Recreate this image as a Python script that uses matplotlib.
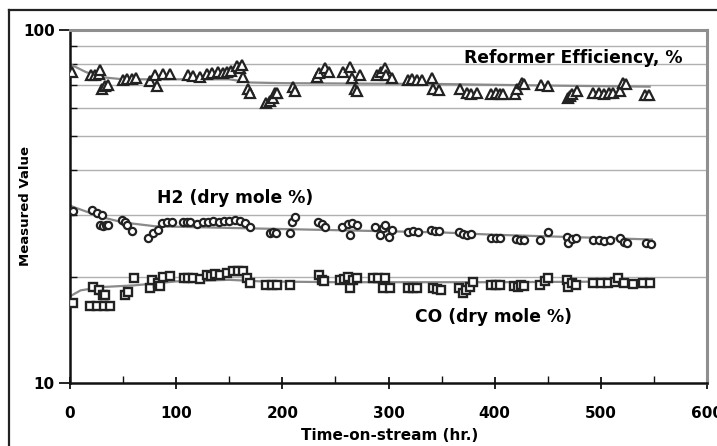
import numpy as np
import matplotlib.pyplot as plt
from matplotlib.lines import Line2D
from matplotlib.ticker import FixedLocator, NullFormatter

# reformer efficiency, %
eff_t = [2, 20, 24, 27, 28, 30, 33, 36, 50, 54, 58, 62, 75, 80, 82, 88, 94,
         111, 116, 122, 129, 134, 139, 144, 148, 152, 157, 160, 162, 163, 168, 170,
         185, 188, 191, 193, 195, 210, 212, 233, 235, 240, 244,
         257, 264, 266, 268, 270, 273, 289, 293, 297, 298, 303,
         318, 322, 327, 332, 341, 342, 348, 367, 374, 378, 383,
         397, 401, 405, 408, 419, 421, 426, 428, 444, 450,
         469, 471, 473, 478, 493, 498, 503, 508, 511, 518, 521, 524, 542, 545]
eff_v = [76, 74.5, 74.5, 75, 77, 68, 69.5, 70, 72, 72.5, 72.5, 73, 71.5, 74.5, 69.5, 75, 75,
         74.5, 74, 73.5, 75, 75.5, 76, 75.5, 76, 76.5, 79, 78, 79.5, 73.5, 68, 66.5,
         62, 63, 64, 66.5, 66.5, 69, 67, 73.5, 75.5, 78, 76,
         76, 78.5, 73, 68, 67, 74.5, 74.5, 76, 78, 74.5, 73,
         72, 72.5, 72, 72, 73, 68, 67.5, 68, 66.5, 66, 66.5,
         66, 66.5, 66, 66, 66, 68, 71, 70.5, 70, 69.5,
         64, 65, 66, 67, 66.5, 66.5, 66, 66.5, 66.5, 67, 71, 70.5, 65.5, 65.5]
eff_trend_t = [0, 15, 30, 50, 150, 170, 200, 350, 450, 546]
eff_trend_v = [80, 76, 73.5, 72.5, 72.5, 71, 70.7, 70.3, 69.6, 69.1]

# H2, dry mole %
h2_t = [3, 21, 25, 30, 28, 31, 34, 36, 49, 52, 54, 58, 73, 78, 83, 87, 91, 96,
        106, 110, 113, 120, 125, 130, 135, 140, 145, 150, 155, 160, 165, 170,
        188, 191, 194, 207, 209, 212, 234, 237, 240,
        256, 262, 264, 266, 270, 287, 292, 295, 297, 300, 303,
        318, 323, 328, 340, 344, 348, 366, 370, 374, 378,
        397, 401, 405, 420, 424, 428, 443, 450,
        468, 469, 473, 477, 493, 498, 503, 509, 518, 522, 525, 543, 547]
h2_v = [30.8, 30.9, 30.3, 29.9, 28, 27.8, 28, 28.1, 29, 28.5, 28, 27, 25.7, 26.6, 27.1, 28.4, 28.6, 28.6,
        28.6, 28.5, 28.6, 28.2, 28.5, 28.6, 28.7, 28.6, 28.8, 28.8, 28.9, 28.7, 28.4, 27.7,
        26.6, 26.7, 26.6, 26.6, 28.6, 29.5, 28.6, 28.2, 27.7,
        27.7, 28.2, 26.3, 28.4, 28, 27.7, 26.3, 27.5, 28, 25.9, 27.2,
        26.8, 27, 26.8, 27.1, 27, 26.9, 26.8, 26.5, 26.3, 26.5,
        25.8, 25.7, 25.8, 25.5, 25.4, 25.4, 25.4, 26.8,
        25.9, 24.9, 25.5, 25.7, 25.4, 25.4, 25.3, 25.4, 25.7, 25.1, 24.9, 24.9, 24.7]
h2_trend_t = [0, 10, 30, 50, 80, 150, 250, 350, 400, 548]
h2_trend_v = [31.8, 31, 29.5, 28.5, 27.8, 27.5, 27.1, 26.7, 26.3, 25.5]

# CO, dry mole %
co_t = [3, 19, 22, 25, 27, 31, 32, 33, 38, 52, 55, 60, 75, 77, 83, 85, 88, 94,
        107, 111, 116, 122, 129, 133, 137, 141, 148, 154, 158, 163, 167, 170,
        185, 190, 195, 207, 235, 237, 239,
        254, 258, 262, 264, 267, 270, 285, 290, 295, 297, 301,
        318, 323, 327, 342, 346, 349, 366, 370, 373, 377, 380,
        397, 401, 405, 418, 422, 425, 428, 443, 447, 450,
        468, 469, 473, 477, 493, 500, 507, 513, 516, 522, 530, 540, 546]
co_v = [16.8, 16.5, 18.7, 16.5, 18.3, 17.8, 16.5, 17.7, 16.5, 17.7, 18.1, 19.8, 18.6, 19.6, 19.2, 18.8, 20.0, 20.1,
        19.8, 19.8, 19.8, 19.7, 20.2, 20.1, 20.3, 20.2, 20.5, 20.7, 20.8, 20.7, 19.8, 19.2,
        19.0, 19.0, 19.0, 19.0, 20.2, 19.6, 19.4,
        19.6, 19.7, 20.0, 18.6, 19.6, 19.8, 19.8, 19.8, 18.6, 19.8, 18.6,
        18.6, 18.6, 18.6, 18.6, 18.5, 18.4, 18.6, 18.0, 18.3, 18.7, 19.3,
        18.9, 19.0, 18.9, 18.8, 18.7, 19.0, 18.8, 18.9, 19.5, 19.8,
        19.6, 18.7, 19.2, 19.0, 19.2, 19.2, 19.2, 19.3, 19.8, 19.2, 19.1, 19.2, 19.2]
co_trend_t = [0, 10, 30, 60, 100, 150, 180, 250, 400, 548]
co_trend_v = [17.6, 18.3, 18.7, 18.9, 19.4, 19.6, 19.4, 19.3, 19.3, 19.4]

plt.rcParams['font.family'] = ['DejaVu Sans']
plt.rcParams['font.weight'] = 'bold'

fig = plt.figure(figsize=(7.17, 4.46), dpi=100)
ax = fig.add_axes([70 / 717, 63 / 446, 637 / 717, 353 / 446])

ax.set_yscale('log')
ax.set_xlim(0, 600)
ax.set_ylim(10, 100)

# horizontal grid at every minor decade step
for g in range(20, 100, 10):
    ax.axhline(g, color='#b0b0b0', lw=1.0, zorder=0)

edge = '#222222'
trend_c = '#8a8a8a'

ax.plot(eff_trend_t, eff_trend_v, color=trend_c, lw=1.6, zorder=2)
ax.plot(h2_trend_t, h2_trend_v, color=trend_c, lw=1.6, zorder=2)
ax.plot(co_trend_t, co_trend_v, color=trend_c, lw=1.6, zorder=2)

ax.plot(eff_t, eff_v, ls='none', marker='^', ms=6.5, mfc='white', mec=edge, mew=1.6, zorder=3)
ax.plot(h2_t, h2_v, ls='none', marker='o', ms=5.2, mfc='white', mec=edge, mew=1.6, zorder=3)
ax.plot(co_t, co_v, ls='none', marker='s', ms=5.6, mfc='white', mec=edge, mew=1.7, zorder=3)

lbl = dict(fontsize=12.3, fontweight='bold', va='center')
ax.text(577, 83.3, 'Reformer Efficiency, %', ha='right', **lbl)
ax.text(82, 33.4, 'H2 (dry mole %)', ha='left', **lbl)
ax.text(325, 15.4, 'CO (dry mole %)', ha='left', **lbl)

# axes frame: dark left/bottom, grey top/right
for s in ['left', 'bottom']:
    ax.spines[s].set_color('#111111')
    ax.spines[s].set_linewidth(1.8)
for s in ['top', 'right']:
    ax.spines[s].set_color('#8f8f8f')
    ax.spines[s].set_linewidth(2.2)

ax.xaxis.set_major_locator(FixedLocator(np.arange(0, 601, 100)))
ax.xaxis.set_minor_locator(FixedLocator(np.arange(50, 600, 100)))
ax.yaxis.set_major_locator(FixedLocator([10, 100]))
ax.yaxis.set_minor_locator(FixedLocator(list(range(20, 100, 10))))
ax.yaxis.set_major_formatter(plt.FixedFormatter(['10', '100']))
ax.yaxis.set_minor_formatter(NullFormatter())

ax.tick_params(axis='x', which='major', direction='inout', length=9, width=1.3, color='#111111',
               labelsize=11, pad=12)
ax.tick_params(axis='x', which='minor', direction='in', length=5, width=1.0, color='#111111')
ax.tick_params(axis='y', which='major', direction='out', length=8, width=1.3, color='#111111',
               labelsize=11, pad=3)
ax.tick_params(axis='y', which='minor', direction='in', length=5, width=1.0, color='#111111')
for lab in ax.get_xticklabels() + ax.get_yticklabels():
    lab.set_fontweight('bold')

ax.set_xlabel('Time-on-stream (hr.)', fontsize=11, fontweight='bold')
ax.xaxis.set_label_coords(0.502, -0.128)
ax.set_ylabel('Measured Value', fontsize=9.5, fontweight='bold')
ax.yaxis.set_label_coords(-0.059, 0.5)

# outer frame around the chart
fl = 9 / 717
ft = 1 - 10 / 446
fig.add_artist(Line2D([fl, fl], [0, ft], transform=fig.transFigure, color='#222222', lw=1.6))
fig.add_artist(Line2D([fl, 1], [ft, ft], transform=fig.transFigure, color='#222222', lw=1.6))

fig.savefig('out.png', dpi=100)
